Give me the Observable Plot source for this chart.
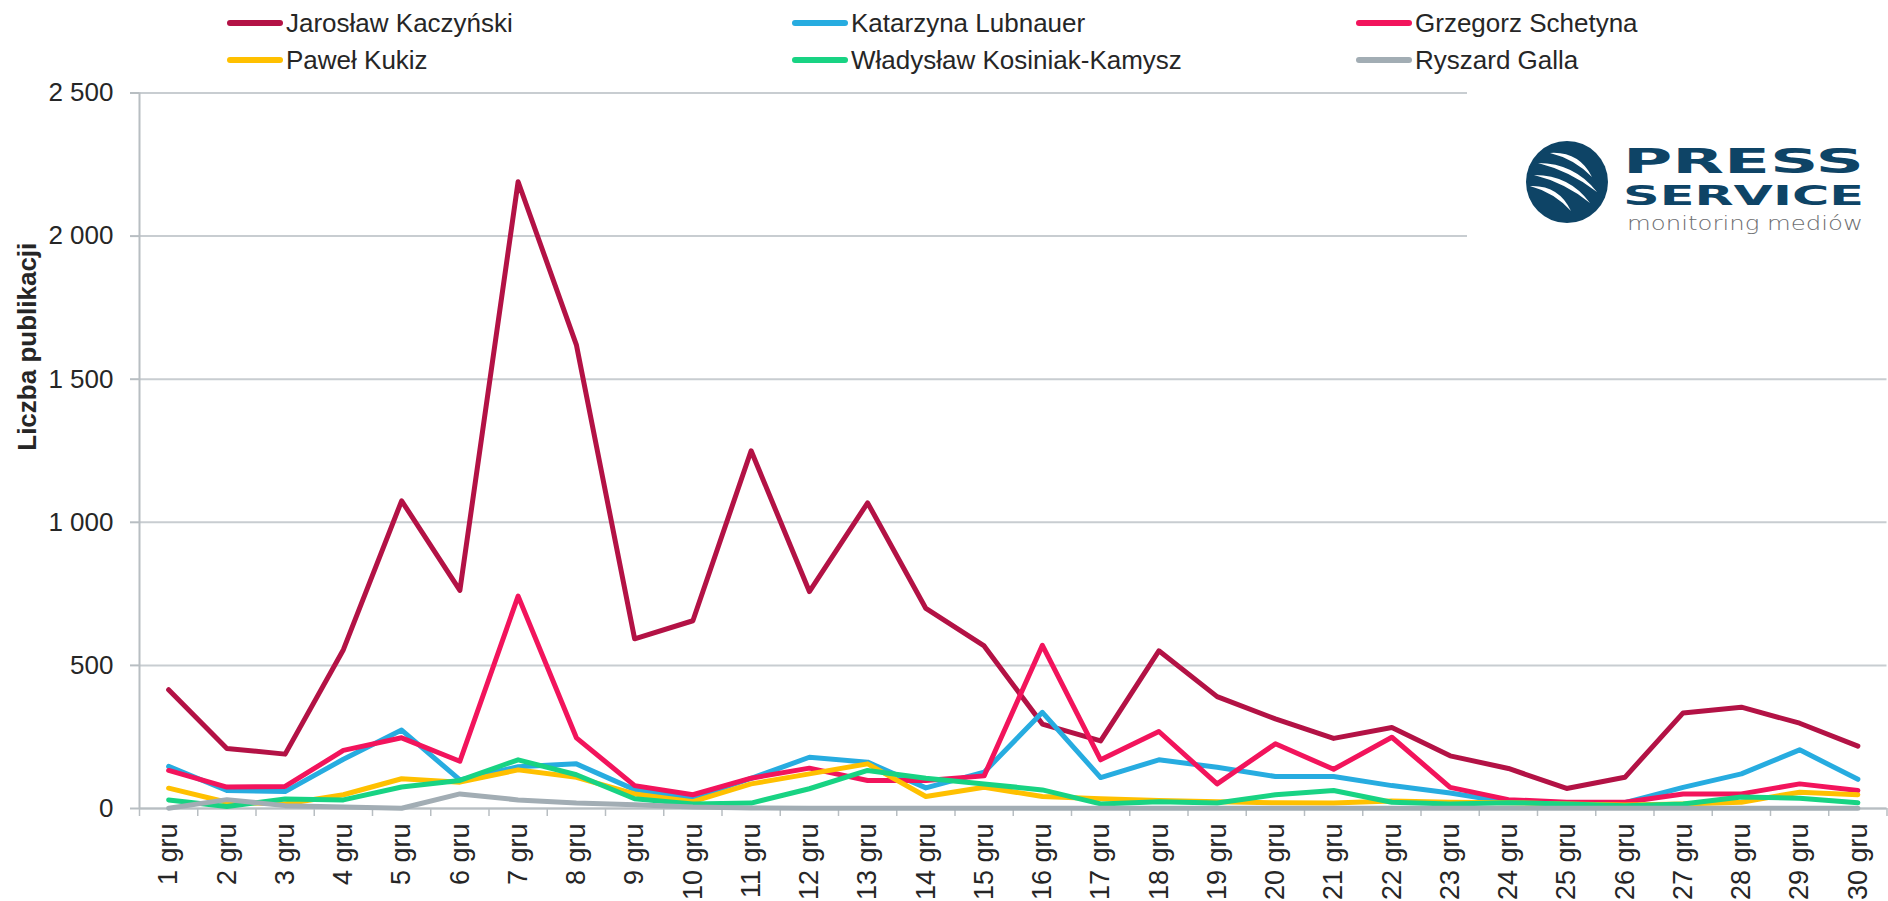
<!DOCTYPE html>
<html>
<head>
<meta charset="utf-8">
<script src="https://cdn.jsdelivr.net/npm/d3@7"></script>
<script src="https://cdn.jsdelivr.net/npm/@observablehq/plot@0.6"></script>
<style>
  html, body { margin: 0; padding: 0; background: #fff; }
  body { width: 1888px; height: 901px; position: relative; overflow: hidden; font-family: 'Liberation Sans', Arial, sans-serif; color: #262626; }
  #legend { position: relative; height: 78px; width: 1888px; }
  .item { position: absolute; display: flex; align-items: center; font-size: 26px; white-space: nowrap; }
  .sw { width: 56px; height: 6px; border-radius: 3px; margin-right: 3px; }
  #logo { position: absolute; left: 1467px; top: 86px; width: 421px; height: 174px; background: #fff; }
</style>
</head>
<body>
<div id="legend"></div>
<div id="chart"></div>
<div id="logo"></div>
<script>
const dayLabels = ["1 gru","2 gru","3 gru","4 gru","5 gru","6 gru","7 gru","8 gru","9 gru","10 gru",
  "11 gru","12 gru","13 gru","14 gru","15 gru","16 gru","17 gru","18 gru","19 gru","20 gru",
  "21 gru","22 gru","23 gru","24 gru","25 gru","26 gru","27 gru","28 gru","29 gru","30 gru"];
const names = ["Jarosław Kaczyński","Katarzyna Lubnauer","Grzegorz Schetyna","Paweł Kukiz","Władysław Kosiniak-Kamysz","Ryszard Galla"];
const colors = ["#B31245","#27ACE0","#F2145C","#FFC000","#18D383","#A2ADB4"];
const kaczynski = [415,210,190,555,1075,762,2190,1620,593,656,1250,758,1068,699,568,295,236,551,391,313,245,283,184,140,70,109,334,354,298,218];
const lubnauer  = [147,63,59,172,274,100,146,156,66,37,105,179,162,72,127,336,108,170,144,112,112,80,54,22,20,20,74,121,205,102];
const schetyna  = [133,75,77,203,247,165,742,247,80,48,106,141,98,98,114,570,170,269,86,226,137,249,74,31,22,22,51,51,86,63];
const kukiz     = [71,22,16,48,104,92,135,109,51,24,86,121,156,42,74,42,34,28,24,20,19,26,22,20,16,12,16,22,57,48];
const kosiniak  = [30,7,33,30,75,98,170,118,34,16,19,69,133,106,86,65,16,24,19,48,63,22,16,20,16,10,16,40,36,20];
const galla     = [1,31,10,5,1,51,30,19,13,5,2,1,1,1,1,1,1,1,1,1,1,1,1,1,1,1,1,1,1,1];
const yTicks = [0,500,1000,1500,2000,2500];

const seriesValues = [kaczynski, lubnauer, schetyna, kukiz, kosiniak, galla];
const rows = [];
names.forEach((name, s) => {
  seriesValues[s].forEach((v, i) => rows.push({name, day: i + 1, value: v}));
});
const dayNums = dayLabels.map((_, i) => i + 1);
const boundaries = dayLabels.map((_, i) => i + 0.5).concat([dayLabels.length + 0.5]);

// Legend
const legendPos = [[227,23],[792,23],[1356,23],[227,60],[792,60],[1356,60]];
const legend = document.getElementById("legend");
names.forEach((n, i) => {
  const it = document.createElement("div");
  it.className = "item";
  it.style.left = legendPos[i][0] + "px";
  it.style.top = (legendPos[i][1] - 15) + "px";
  it.style.height = "30px";
  it.innerHTML = `<span class="sw" style="background:${colors[i]}"></span><span>${n}</span>`;
  legend.appendChild(it);
});

const fmt = d => d3.format(",")(d).replace(/,/g, " ");
const axisColor = "#B8BEC2";

const chart = Plot.plot({
  width: 1888,
  height: 823,
  marginTop: 14.5,
  marginBottom: 93,
  marginLeft: 139,
  marginRight: 1.5,
  x: {domain: [0.5, dayLabels.length + 0.5]},
  y: {domain: [0, 2500]},
  color: {domain: names, range: colors},
  style: {fontFamily: "'Liberation Sans', Arial, sans-serif", fontSize: "26px", color: "#262626", background: "white"},
  marks: [
    Plot.ruleY(yTicks, {stroke: "#C8CDD1", strokeWidth: 2}),
    Plot.axisY({ticks: yTicks, tickSize: 9, tickPadding: 17, tickFormat: fmt, stroke: axisColor, strokeWidth: 2, strokeOpacity: 1, fontSize: 26, label: null}),
    Plot.ruleX([0.5], {stroke: axisColor, strokeWidth: 2}),
    Plot.axisX({ticks: boundaries, tickSize: 8, tickFormat: () => "", stroke: axisColor, strokeWidth: 1.5, strokeOpacity: 1, label: null}),
    Plot.axisX({ticks: dayNums, tickSize: 0, tickPadding: 15, tickRotate: -90, tickFormat: d => dayLabels[d - 1], fontSize: 27, label: null}),
    Plot.ruleY([0], {stroke: axisColor, strokeWidth: 2}),
    Plot.line(rows, {x: "day", y: "value", z: "name", stroke: "name", strokeWidth: 5, strokeLinejoin: "round", strokeLinecap: "round"}),
    Plot.text(["Liczba publikacji"], {frameAnchor: "left", rotate: -90, dx: -112, fontWeight: "bold", fontSize: 26, fill: "#262626"})
  ]
});
document.getElementById("chart").appendChild(chart);

// Logo
const stripes = [[[83,67],[125,91]],[[71,77],[130,106]],[[67,89],[123,117]],[[63,100],[104,125]]];
let paths = "";
stripes.forEach(([p1, p2], i) => {
  const mx = (p1[0] + p2[0]) / 2, my = (p1[1] + p2[1]) / 2;
  const dx = p2[0] - p1[0], dy = p2[1] - p1[1];
  const L = Math.hypot(dx, dy);
  const nx = dy / L, ny = -dx / L;
  const b1 = 16, b2 = 7;
  paths += `<path d="M${p1[0]},${p1[1]} Q${mx + nx*b1},${my + ny*b1} ${p2[0]},${p2[1]} Q${mx + nx*b2},${my + ny*b2} ${p1[0]},${p1[1]} Z" fill="#fff"/>`;
});
document.getElementById("logo").innerHTML = `
<svg width="421" height="174" xmlns="http://www.w3.org/2000/svg">
  <defs><clipPath id="cc"><circle cx="100" cy="96" r="41"/></clipPath></defs>
  <circle cx="100" cy="96" r="41" fill="#0E4466"/>
  <g clip-path="url(#cc)">${paths}</g>
  <text x="156" y="87" font-family="DejaVu Sans" font-weight="bold" font-size="34" fill="#0E4466" textLength="241" lengthAdjust="spacingAndGlyphs">PRESS</text>
  <text x="156" y="119" font-family="DejaVu Sans" font-weight="bold" font-size="26" fill="#0E4466" textLength="241" lengthAdjust="spacingAndGlyphs">SERVICE</text>
  <text x="160" y="144" font-family="DejaVu Sans" font-weight="200" font-size="20" fill="#6D6E71" textLength="236" lengthAdjust="spacingAndGlyphs">monitoring mediów</text>
</svg>`;
</script>
</body>
</html>
